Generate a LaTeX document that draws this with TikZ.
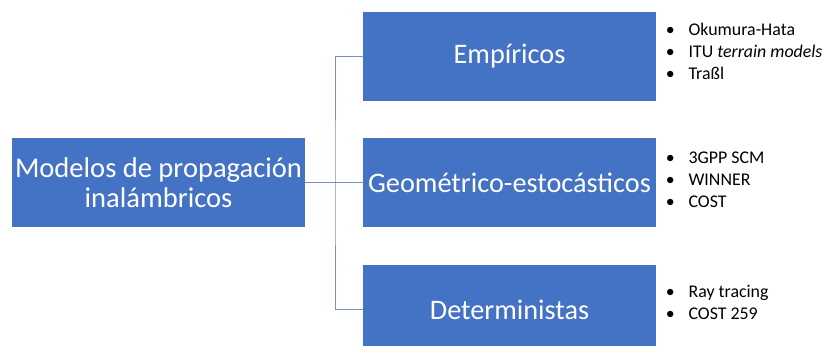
\documentclass[tikz,border=0pt]{standalone}
\usepackage{fontspec}
\setmainfont{Carlito}
\definecolor{boxblue}{HTML}{4472C4}
\definecolor{linkblue}{HTML}{7890BC}
\begin{document}
\begin{tikzpicture}[x=0.75pt,y=-0.75pt,
  box/.style={rectangle, fill=boxblue, draw=none, text=white,
    minimum width=219.75pt, minimum height=66.75pt, inner sep=0pt,
    font=\fontsize{21.2}{22.5}\selectfont, align=center},
  conn/.style={draw=linkblue, line width=0.75pt},
  item/.style={anchor=base west, inner sep=0pt, font=\fontsize{13.4}{16.5}\selectfont}]
\clip (0,0) rectangle (824,346);
\fill[white] (0,0) rectangle (824,346);
\node[box, font=\fontsize{21.4}{22.5}\selectfont] (root) at (158.5,182.5) {Modelos de propagación\\inalámbricos};
\node[box] (emp) at (509.5,56.5) {Empíricos};
\node[box] (geo) at (509.5,182.5) {Geométrico-estocásticos};
\node[box] (det) at (509.5,309.5) {Deterministas};
\coordinate (j) at (335,182.5);
\draw[conn] (root.east) -- (geo.west);
\draw[conn] (emp.west) -| (j) |- (det.west);
\newcommand{\bl}[1]{\makebox[17.1pt][l]{•}#1}
\node[item] (e1) at (665.5,35.5) {\bl{Okumura-Hata}};
\node[item] (e2) at (665.5,57.5) {\bl{ITU \textit{terrain models}}};
\node[item] (e3) at (665.5,79.5) {\bl{Traßl}};
\node[item] (g1) at (665.5,163) {\bl{3GPP SCM}};
\node[item] (g2) at (665.5,185) {\bl{WINNER}};
\node[item] (g3) at (665.5,207) {\bl{COST}};
\node[item] (d1) at (665.5,297) {\bl{Ray tracing}};
\node[item] (d2) at (665.5,319) {\bl{COST 259}};
\end{tikzpicture}
\end{document}
